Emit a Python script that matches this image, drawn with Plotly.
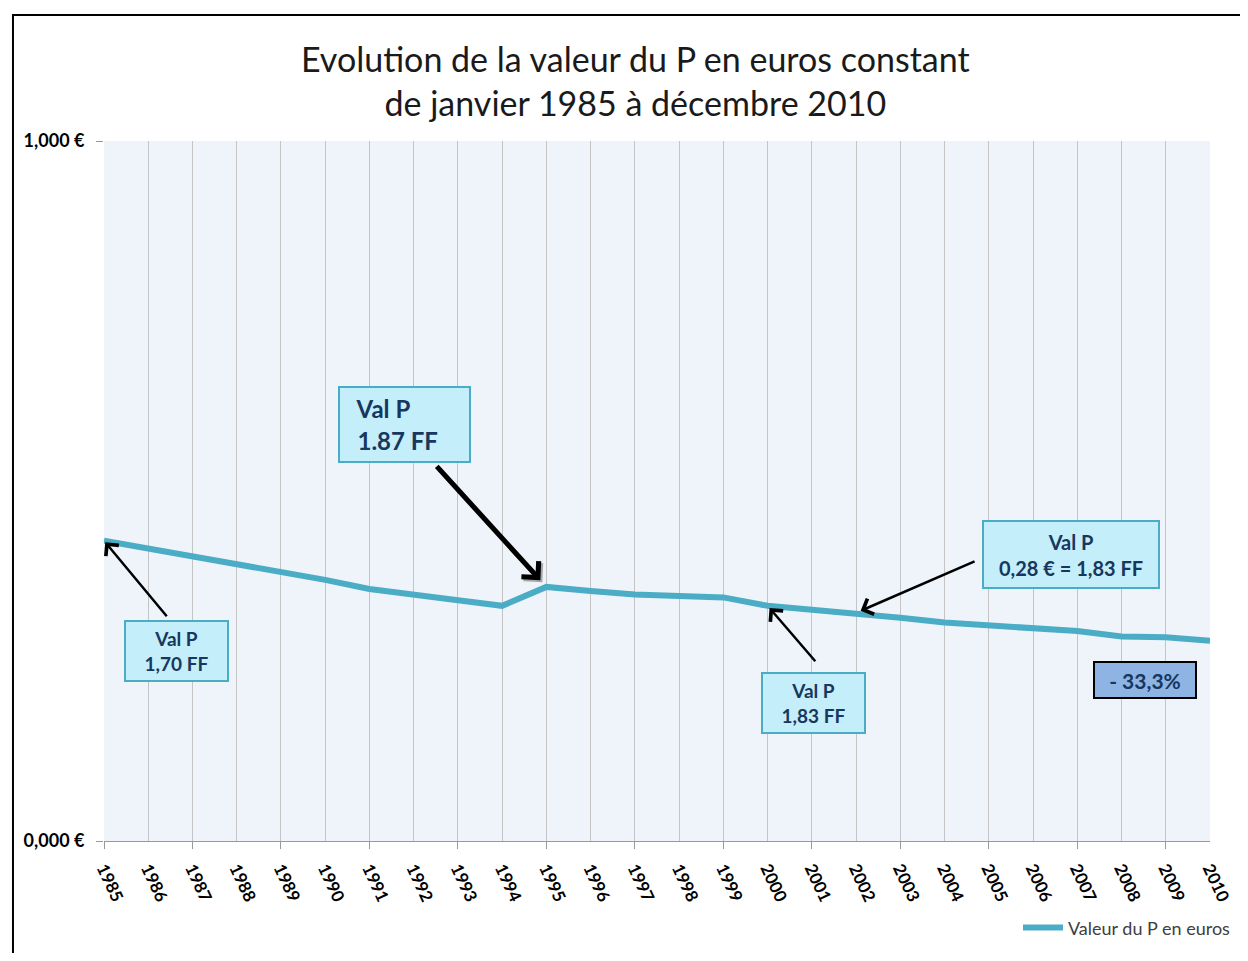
import plotly.graph_objects as go

# ---------------- data ----------------
years = list(range(1985, 2011))
valeur_p = [0.429, 0.418, 0.408, 0.397, 0.385, 0.373, 0.360, 0.351, 0.344, 0.336,
            0.363, 0.357, 0.352, 0.350, 0.348, 0.336, 0.331, 0.326, 0.319, 0.312,
            0.308, 0.304, 0.300, 0.292, 0.291, 0.286]
y_tick_vals = [0, 1]
y_tick_text = ["0,000 €", "1,000 €"]
series_name = "Valeur du P en euros"
title_lines = ["Evolution de la valeur du P en euros constant",
               "de janvier 1985 à décembre 2010"]

LINE_COL = "#4BACC6"
BOX_FILL = "#C4EEF9"
BOX_BORDER = "#4BACC6"
TXT_COL = "#17375E"
FONT = "Lato"

fig = go.Figure()
fig.add_trace(go.Scatter(
    x=years, y=valeur_p, mode="lines", name=series_name,
    line=dict(color=LINE_COL, width=6),
))
# helper trace to carry odd-year tick marks on an overlaid axis
odd_years = [y for y in years if (y - years[0]) % 2 == 0]
fig.add_trace(go.Scatter(
    x=odd_years, y=[None] * len(odd_years), xaxis="x2", mode="lines",
    showlegend=False, hoverinfo="skip",
))

annotations = []
# title
annotations.append(dict(
    text="<br>".join(title_lines), xref="paper", yref="paper",
    x=0.481, y=1.087, xanchor="center", yanchor="middle", showarrow=False,
    font=dict(family=FONT, size=34, color="#1a1a1a"),
))

def box(text, x, y, w, h, size, align="center", fill=BOX_FILL, border=BOX_BORDER, bw=2):
    annotations.append(dict(
        text=text, x=x, y=y, xref="x", yref="y", showarrow=False,
        xanchor="center", yanchor="middle", width=w, height=h, align=align,
        bgcolor=fill, bordercolor=border, borderwidth=bw, borderpad=0,
        font=dict(family=FONT, size=size, color=TXT_COL),
    ))

def arrow(i, ax, ay, width=2.5, standoff=0, color="black", xshift=0, yshift=0, head=4, size=1.3):
    annotations.append(dict(
        text="", x=years[i], y=valeur_p[i], xref="x", yref="y",
        ax=ax, ay=ay, showarrow=True, arrowhead=head, arrowsize=size,
        arrowwidth=width, arrowcolor=color, standoff=standoff,
        xshift=xshift, yshift=yshift,
    ))

# arrows
arrow(0, 64, 77, standoff=2)
arrow(10, -111, -122, width=5, standoff=9, color="rgba(0,0,0,0.3)", xshift=2, yshift=-2, size=0.9)
arrow(10, -111, -122, width=5, standoff=9, size=0.9)
arrow(17, 120, -52, standoff=5)
arrow(15, 49, 57, standoff=3)

# boxes
box("<b>Val P<br>1,70 FF</b>", 1986.64, 0.2714, 101, 58, 19)
box("<b>&nbsp;&nbsp;&nbsp;Val P<br>&nbsp;&nbsp;&nbsp;1.87 FF</b>", 1991.79, 0.595, 129, 73, 24, align="left")
box("<b>Val P<br>0,28 € = 1,83 FF</b>", 2006.86, 0.4093, 174, 65, 20)
box("<b>Val P<br>1,83 FF</b>", 2001.04, 0.1971, 101, 58, 19)
box("<b>- 33,3%</b>", 2008.53, 0.23, 100, 34, 21, fill="#8DB4E2", border="black", bw=2)

# outer frame
shapes = [dict(type="rect", xref="paper", yref="paper", x0=-0.0823, x1=1.2,
               y0=-0.4, y1=1.18, line=dict(color="black", width=2), layer="below")]

fig.update_layout(
    width=1232, height=945,
    margin=dict(l=96, r=30, t=133, b=112, autoexpand=False),
    paper_bgcolor="white", plot_bgcolor="#EEF4FA",
    annotations=annotations, shapes=shapes,
    showlegend=True,
    legend=dict(orientation="h", x=1.0235, xanchor="right", y=-0.124, yanchor="middle",
                itemwidth=40, font=dict(family=FONT, size=18, color="#404040"),
                bgcolor="rgba(0,0,0,0)"),
    xaxis=dict(range=[years[0], years[-1]], tickvals=years,
               ticktext=[f"<b>{y}</b>" for y in years], tickangle=65,
               ticks="", showgrid=True, gridcolor="#C4C4C4", gridwidth=1,
               showline=True, linecolor="#999999", linewidth=1, zeroline=False,
               ticklabelstandoff=10,
               tickfont=dict(family=FONT, size=17, color="black")),
    xaxis2=dict(overlaying="x", matches="x", range=[years[0], years[-1]], tickvals=odd_years,
                showticklabels=False, ticks="outside", ticklen=7, tickcolor="#999999",
                showgrid=False, showline=False, zeroline=False, side="bottom"),
    yaxis=dict(range=[0, 1], tickvals=y_tick_vals,
               ticktext=[f"<b>{t}</b>" for t in y_tick_text],
               ticks="outside", ticklen=7, tickcolor="#999999",
               showgrid=True, gridcolor="#A8A8A8", zeroline=False, showline=False,
               ticklabelstandoff=8,
               tickfont=dict(family=FONT, size=18, color="black")),
)

fig.write_html("out.html")
